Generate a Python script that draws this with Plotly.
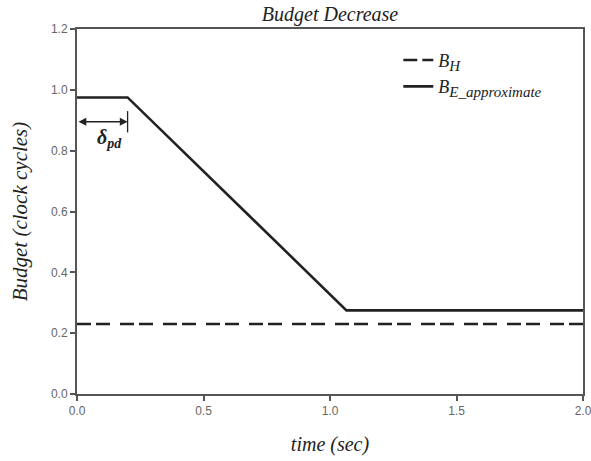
import plotly.graph_objects as go

# Budget over time
time_h = [0.0, 2.0]
budget_h = [0.23, 0.23]

time_e = [0.0, 0.2, 1.065, 2.0]
budget_e = [0.975, 0.975, 0.275, 0.275]

# propagation delay interval marker
delta_pd = 0.2
delta_level = 0.895

x_ticks = [0.0, 0.5, 1.0, 1.5, 2.0]
x_tick_labels = ["0.0", "0.5", "1.0", "1.5", "2.0"]
y_ticks = [0.0, 0.2, 0.4, 0.6, 0.8, 1.0, 1.2]
y_tick_labels = ["0.0", "0.2", "0.4", "0.6", "0.8", "1.0", "1.2"]

serif = "'Times New Roman', 'Liberation Serif', serif"
sans = "Arial, 'Liberation Sans', sans-serif"


def sub_label(main, sub):
    return f"<i>{main}<sub><span style='font-size:15px'>{sub}</span></sub></i>"


fig = go.Figure()
fig.add_trace(go.Scatter(
    x=time_h, y=budget_h, mode="lines",
    name=sub_label("B", "H"),
    line=dict(color="#222222", width=2.6, dash="14px,5px,14px,10px"),
))
fig.add_trace(go.Scatter(
    x=time_e, y=budget_e, mode="lines",
    name=sub_label("B", "E_approximate"),
    line=dict(color="#222222", width=2.6),
))

# double-headed arrow marking delta_pd
fig.add_annotation(
    x=delta_pd, y=delta_level, ax=0.0, ay=delta_level,
    xref="x", yref="y", axref="x", ayref="y",
    text="", showarrow=True, arrowhead=2, arrowside="end+start",
    arrowsize=1.2, arrowwidth=1.3, arrowcolor="#222222",
)
fig.add_shape(type="line", xref="x", yref="y",
              x0=delta_pd, x1=delta_pd, y0=delta_level - 0.035, y1=delta_level + 0.035,
              line=dict(color="#222222", width=1.3))
fig.add_annotation(
    x=delta_pd / 2 + 0.03, y=delta_level - 0.055, xref="x", yref="y",
    text="<b><i>δ<sub>pd</sub></i></b>", showarrow=False,
    font=dict(family=serif, size=20, color="#222222"),
)

axis_common = dict(
    showgrid=False, zeroline=False, showline=True, linecolor="#555555", linewidth=2,
    mirror=True, ticks="outside", ticklen=5, tickwidth=1.5, tickcolor="#555555",
    tickfont=dict(family=sans, size=12, color="#666666"),
    automargin=False, ticklabeloverflow="allow",
)

fig.update_layout(
    width=591, height=461,
    margin=dict(l=77, r=8, t=29, b=67),
    paper_bgcolor="white", plot_bgcolor="white",
    font=dict(family=serif),
    title=dict(text="<i>Budget Decrease</i>", x=0.5, xanchor="center",
               xref="paper", y=0.97, yanchor="middle",
               font=dict(family=serif, size=20, color="#222222")),
    xaxis=dict(range=[0, 2.0], tickvals=x_ticks, ticktext=x_tick_labels,
               title=dict(text="<i>time (sec)</i>", standoff=20,
                          font=dict(family=serif, size=20, color="#222222")),
               **axis_common),
    yaxis=dict(range=[0, 1.2], tickvals=y_ticks, ticktext=y_tick_labels,
               title=dict(text="<i>Budget (clock cycles)</i>", standoff=18,
                          font=dict(family=serif, size=21, color="#222222")),
               **axis_common),
    legend=dict(x=0.635, y=0.965, xanchor="left", yanchor="top",
                bgcolor="rgba(0,0,0,0)", borderwidth=0,
                font=dict(family=serif, size=18, color="#222222"),
                tracegroupgap=0),
    showlegend=True,
)

fig.write_html("out.html")
